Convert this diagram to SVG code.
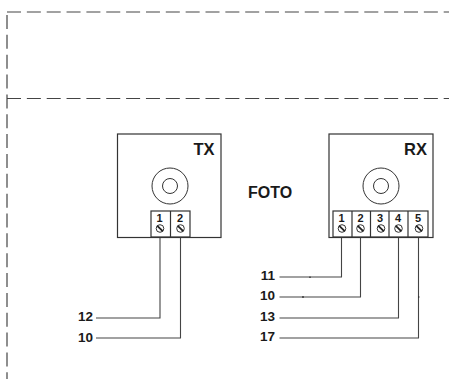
<svg xmlns="http://www.w3.org/2000/svg" width="449" height="379" viewBox="0 0 449 379">
<style>
.b{fill:none;stroke:#333;stroke-width:1.2}
.d{fill:none;stroke:#444;stroke-width:1.2;stroke-dasharray:14 5.85}
.w{fill:none;stroke:#444;stroke-width:1.1}
.t{font-family:"Liberation Sans",Arial,sans-serif;font-weight:700;fill:#1a1a1a}
.l{font-size:13.5px;text-anchor:end}
.h{font-size:16.5px;text-anchor:end}
.n{font-size:11px;text-anchor:middle}
.s{fill:none;stroke:#333;stroke-width:1}
.k{fill:none;stroke:#222;stroke-width:1.8}
</style>
<defs>
<g id="screw"><circle r="3.8" class="s"/><path d="M-2.7-2.7L2.7 2.7" class="k"/></g>
</defs>
<g id="frame">
<path class="d" d="M7 12H449"/>
<path class="d" d="M7 98.500H449"/>
<path class="d" d="M7 15V379"/>
</g>
<g id="connectors">
<path class="w" d="M96 318H160V237"/>
<path class="w" d="M96 338H180.500V237"/>
<path class="w" d="M279.500 277H341.500V237"/>
<path class="w" d="M279.500 297H360.500V237"/>
<path class="w" d="M279.500 318H398.500V237"/>
<path class="w" d="M279.500 338H418.500V237"/>
<path d="M310 276.500v1.500M303 296v2M418 297h1.500" stroke="#222" stroke-width="1.200" fill="none"/>
</g>
<g id="tx">
<rect class="b" x="117.500" y="134" width="103.500" height="103.500"/>
<circle class="s" cx="170" cy="186" r="18"/>
<circle class="s" cx="170" cy="186" r="7.500"/>
<rect class="b" x="151" y="211" width="39" height="26"/>
<path class="b" d="M170.500 211V237"/>
<text class="t h" x="214.500" y="154.500">TX</text>
<text class="t n" x="159.500" y="221.500">1</text>
<text class="t n" x="180" y="221.500">2</text>
<use href="#screw" x="160" y="228.500"/>
<use href="#screw" x="180.500" y="228.500"/>
</g>
<g id="rx">
<rect class="b" x="329" y="134" width="104" height="103.500"/>
<circle class="s" cx="381" cy="186" r="18"/>
<circle class="s" cx="381" cy="186" r="7.500"/>
<rect class="b" x="333" y="211" width="95" height="26"/>
<path class="b" d="M352 211V237M370.500 211V237M389 211V237M408 211V237"/>
<text class="t h" x="427" y="154.500">RX</text>
<text class="t n" x="341.500" y="221.500">1</text>
<text class="t n" x="360.500" y="221.500">2</text>
<text class="t n" x="380" y="221.500">3</text>
<text class="t n" x="398" y="221.500">4</text>
<text class="t n" x="418" y="221.500">5</text>
<use href="#screw" x="342" y="228.500"/>
<use href="#screw" x="360.500" y="228.500"/>
<use href="#screw" x="381" y="228.500"/>
<use href="#screw" x="398.500" y="228.500"/>
<use href="#screw" x="419" y="228.500"/>
</g>
<g id="labels">
<text class="t" x="248" y="197.500" font-size="16">FOTO</text>
<text class="t l" x="93" y="320.500">12</text>
<text class="t l" x="93" y="341.500">10</text>
<text class="t l" x="275" y="279.500">11</text>
<text class="t l" x="275" y="299.500">10</text>
<text class="t l" x="275" y="320.500">13</text>
<text class="t l" x="275" y="341">17</text>
</g>
</svg>
